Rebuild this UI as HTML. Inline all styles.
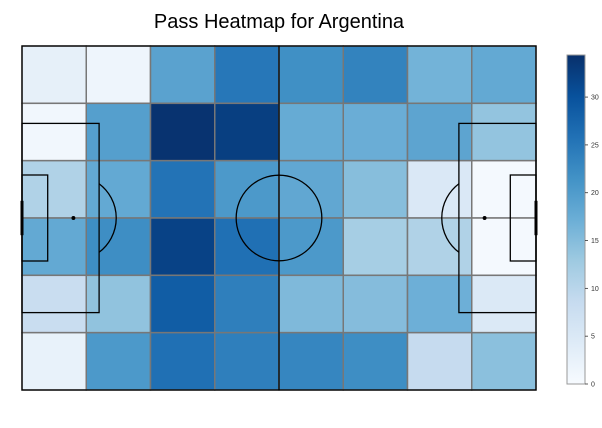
<!DOCTYPE html>
<html><head><meta charset="utf-8"><style>
body{margin:0;background:#fff;}
svg{display:block;font-family:"Liberation Sans",sans-serif;}
</style></head><body>
<svg id="chart" width="602" height="428" xmlns="http://www.w3.org/2000/svg">
<text x="279" y="28" text-anchor="middle" font-size="20" fill="#000">Pass Heatmap for Argentina</text>
<g id="cells"></g>
<g id="pitch" fill="none" stroke="#000" stroke-width="1.3"></g>
<g id="cbar"></g>
</svg>
<script>
const rowsLabels = [0,1,2,3,4,5];
const colsLabels = [0,1,2,3,4,5,6,7];
const row0 = [3, 1.5, 19, 25, 21.8, 23.5, 16.5, 18];
const row1 = [1, 19.5, 34, 32.5, 17.7, 17.3, 18.7, 13.8];
const row2 = [11, 18, 25.5, 20.5, 18.3, 14.8, 5, 0.5];
const row3 = [18, 22, 32, 26, 20.5, 12, 11, 0.5];
const row4 = [8, 14, 28.5, 24, 15.5, 15, 17, 4.8];
const row5 = [2.5, 20.5, 26, 24, 23, 22, 8.6, 14.5];
const grid = [row0,row1,row2,row3,row4,row5];
const cbTicks = [0,5,10,15,20,25,30];
const vmax = 34.4;

const NS="http://www.w3.org/2000/svg";
const blues=["#f7fbff","#deebf7","#c6dbef","#9ecae1","#6baed6","#4292c6","#2171b5","#08519c","#08306b"];
function hex(h){return [1,3,5].map(i=>parseInt(h.substr(i,2),16));}
function color(v){let t=Math.max(0,Math.min(1,v/vmax))*(blues.length-1);let i=Math.min(Math.floor(t),blues.length-2);let f=t-i;let a=hex(blues[i]),b=hex(blues[i+1]);return "rgb("+a.map((c,k)=>Math.round(c+(b[k]-c)*f)).join(",")+")";}
const X0=22,X1=536,Y0=46,Y1=390;
const sx=u=>X0+u*(X1-X0)/120, sy=u=>Y0+u*(Y1-Y0)/80;
const cw=(X1-X0)/colsLabels.length, rh=(Y1-Y0)/rowsLabels.length;
function mk(tag,attrs,parent){const e=document.createElementNS(NS,tag);for(const k in attrs)e.setAttribute(k,attrs[k]);parent.appendChild(e);return e;}
const cells=document.getElementById('cells');
rowsLabels.forEach((r,ri)=>colsLabels.forEach((c,ci)=>{
 const e=mk('rect',{x:X0+ci*cw,y:Y0+ri*rh,width:cw,height:rh,fill:color(grid[ri][ci]),stroke:'#777','stroke-width':1.5},cells);
 
 
}));
const p=document.getElementById('pitch');
mk('rect',{x:X0,y:Y0,width:X1-X0,height:Y1-Y0},p);
mk('line',{x1:sx(60),y1:Y0,x2:sx(60),y2:Y1},p);
mk('circle',{cx:sx(60),cy:sy(40),r:sx(10)-X0},p);
[[0,1],[120,-1]].forEach(([g,d])=>{
 mk('rect',{x:Math.min(sx(g),sx(g+d*18)),y:sy(18),width:sx(18)-X0,height:sy(62)-sy(18)},p);
 mk('rect',{x:Math.min(sx(g),sx(g+d*6)),y:sy(30),width:sx(6)-X0,height:sy(50)-sy(30)},p);
 mk('circle',{cx:sx(g+d*12),cy:sy(40),r:1.3,fill:'#000'},p);
 mk('line',{x1:sx(g),y1:sy(36),x2:sx(g),y2:sy(44),'stroke-width':3},p);
 const r=sx(10)-X0, px=sx(g+d*12), ex=sx(g+d*18), dx=ex-px, dy=Math.sqrt(r*r-dx*dx);
 mk('path',{d:`M${ex},${sy(40)-dy} A${r},${r} 0 0 ${d>0?1:0} ${ex},${sy(40)+dy}`},p);
});
const cb=document.getElementById('cbar');
const CX=567,CW=18,CT=55,CB=384;
const defs=mk('defs',{},cb);const lg=mk('linearGradient',{id:'bg',x1:0,y1:1,x2:0,y2:0},defs);
blues.forEach((c,i)=>mk('stop',{offset:i/(blues.length-1),'stop-color':c},lg));
mk('rect',{x:CX,y:CT,width:CW,height:CB-CT,fill:'url(#bg)',stroke:'#999','stroke-width':1},cb);
cbTicks.forEach(t=>{const y=CB-t/vmax*(CB-CT);
 mk('line',{x1:CX+CW,y1:y,x2:CX+CW+3,y2:y,stroke:'#333','stroke-width':0.8},cb);
 const tx=mk('text',{x:CX+CW+6,y:y+2.5,'font-size':7,fill:'#333'},cb);tx.textContent=t;
 
 
});
</script>
</body></html>
